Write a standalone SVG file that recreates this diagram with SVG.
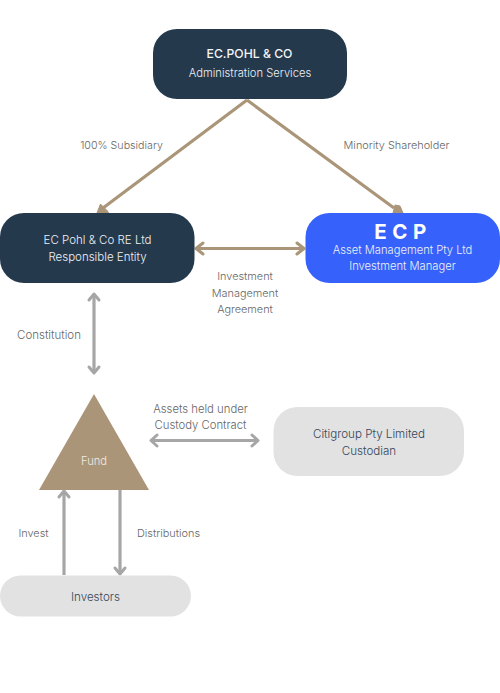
<svg xmlns="http://www.w3.org/2000/svg" width="500" height="693" viewBox="0 0 500 693">
<style>
text{font-family:"Inter","Noto Sans",sans-serif;font-size:11.2px;font-weight:300;text-anchor:middle}
.w{fill:#eef1f4}
.g{fill:#666;font-size:10.9px}
.d{fill:#33465a;font-size:11.6px}
.tan{fill:none;stroke:#ab9579;stroke-width:3.2}
.gr{fill:none;stroke:#a6a6a6;stroke-width:3.2}
.h{stroke-linecap:round;stroke-linejoin:round;stroke-width:3}
</style>
<rect width="500" height="693" fill="#fff"/>
<g id="connectors">
<g class="tan">
<path d="M247 100L103 208"/><path d="M247 100L394 208"/>
<path d="M196 248.500H304"/>
</g>
<path d="M97 213l3.500-9 7 7 1 2zM393 213l2-8 5 1 3 7z" fill="#ab9579" stroke="#ab9579"/>
<path class="tan h" d="M203 243l-7 5.500 7 5.500M297 243l7 5.500-7 5.500"/>
<g class="gr">
<path d="M94 294V373"/><path class="h" d="M89 300l5-6 5 6M89 367l5 6 5-6"/>
<path d="M151 440.500H258"/><path class="h" d="M157 435l-6 5.500 6 5.500M252 435l6 5.500-6 5.500"/>
<path d="M64 491V575"/><path class="h" d="M59 497l5-6 5 6"/>
<path d="M120 490V574"/><path class="h" d="M115 568l5 6 5-6"/>
</g>
</g>
<g id="node-ecpohl">
<rect x="153" y="29" width="194" height="70" rx="24" fill="#25394d"/>
<text x="249.500" y="58" style="font-weight:500;font-size:12.200px" fill="#f4f6f8">EC.POHL &amp; CO</text>
<text x="250" y="77" class="w">Administration Services</text>
</g>
<g id="node-re">
<rect x="0" y="213" width="194.500" height="70" rx="24" fill="#25394d"/>
<text x="97.500" y="244" class="w" style="font-size:11.500px">EC Pohl &amp; Co RE Ltd</text>
<text x="97.500" y="261" class="w" style="font-size:11.500px">Responsible Entity</text>
</g>
<g id="node-ecp">
<rect x="305.500" y="213" width="194.500" height="70" rx="24" fill="#3662fb"/>
<text x="403" y="239" fill="#fff" style="font-size:20.500px;font-weight:700;letter-spacing:5.500px">ECP</text>
<text x="402.500" y="253.500" class="w">Asset Management Pty Ltd</text>
<text x="402.500" y="270" class="w">Investment Manager</text>
</g>
<g id="node-fund">
<path d="M94 394L149 490H39Z" fill="#ab9579"/>
<text x="94" y="465" fill="#f0ebe4">Fund</text>
</g>
<g id="node-custodian">
<rect x="273.500" y="407" width="190.500" height="69" rx="24" fill="#e2e2e2"/>
<text x="369" y="438" class="d">Citigroup Pty Limited</text>
<text x="369" y="455" class="d">Custodian</text>
</g>
<g id="node-investors">
<rect x="0" y="575.500" width="191" height="41" rx="20.500" fill="#e2e2e2"/>
<text x="95.500" y="601" class="d">Investors</text>
</g>
<g id="labels">
<text x="121.500" y="149" class="g" style="font-size:10.700px">100% Subsidiary</text>
<text x="396.500" y="149" class="g">Minority Shareholder</text>
<text x="245" y="280" class="g">Investment</text>
<text x="245" y="297" class="g">Management</text>
<text x="245" y="313" class="g">Agreement</text>
<text x="49" y="339" class="g" style="font-size:11.500px">Constitution</text>
<text x="200.500" y="413" class="g" style="font-size:11.300px">Assets held under</text>
<text x="200.500" y="429" class="g" style="font-size:11.300px">Custody Contract</text>
<text x="33.500" y="537" class="g">Invest</text>
<text x="168.500" y="537" class="g">Distributions</text>
</g>
</svg>
